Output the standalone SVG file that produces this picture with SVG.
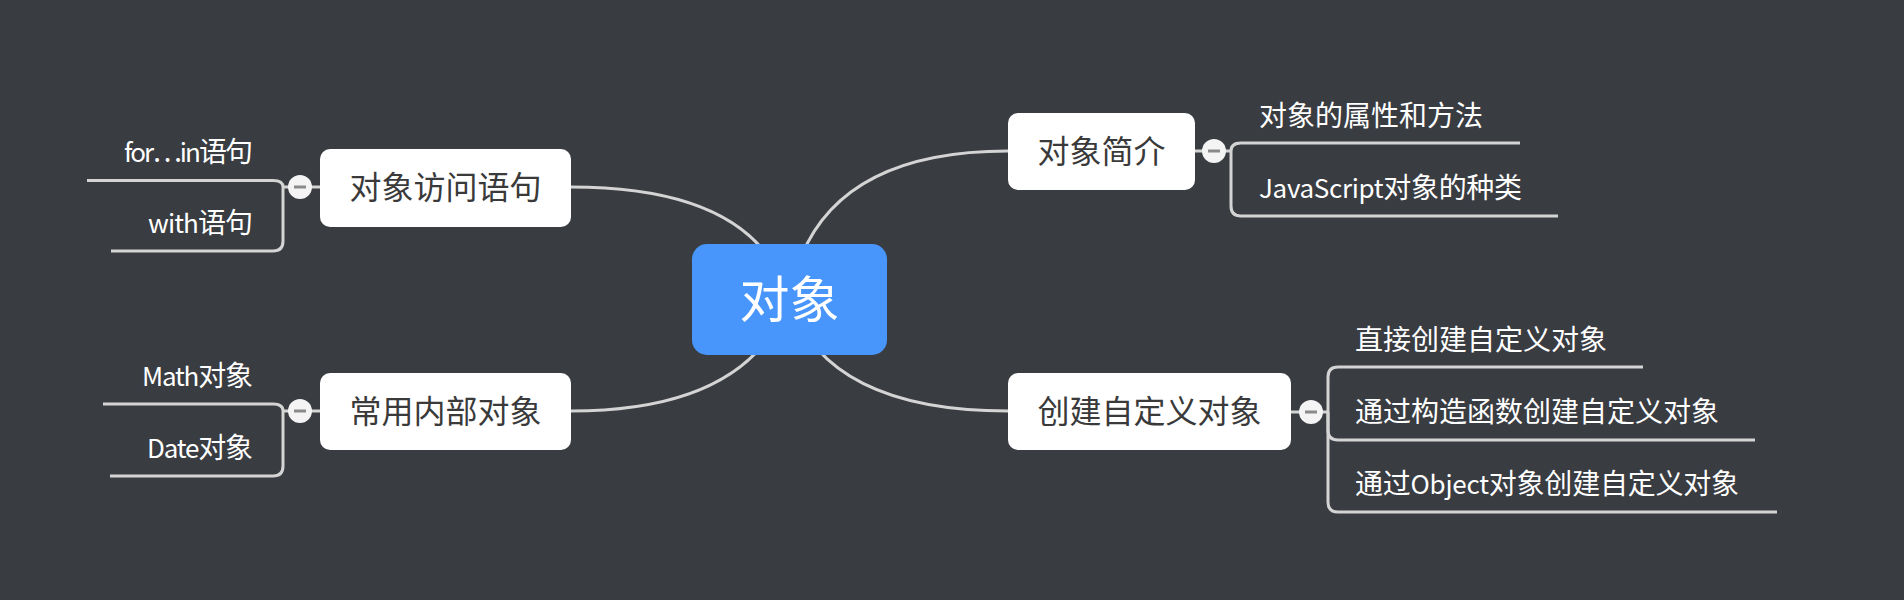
<svg xmlns="http://www.w3.org/2000/svg" width="1904" height="600" viewBox="0 0 1904 600">
<style>
text{font-family:"Noto Sans CJK SC","Noto Sans",sans-serif}
.bg{fill:#393c41}
.conn{fill:none;stroke:#d4d4d4;stroke-width:3;stroke-linecap:butt}
.topic{fill:#ffffff}
.ttext{font-size:32px;fill:#3a3a3a;text-anchor:middle}
.sub{font-size:28px;fill:#ffffff}
.lat{font-size:26px}
.tog{fill:#f4f4f4}
.minus{stroke:#8a8a8a;stroke-width:3}
.fw{font-family:"Noto Sans CJK SC",sans-serif;font-size:28px;font-variant-east-asian:full-width;font-feature-settings:"fwid" 1}
</style>
<rect class="bg" x="0" y="0" width="1904" height="600"/>
<g id="connectors">
  <path class="conn" d="M789,300 Q758,187 571,187"/>
  <path class="conn" d="M789,300 Q748,411 571,411"/>
  <path class="conn" d="M789,300 Q814,151 1008,151"/>
  <path class="conn" d="M789,300 Q827,411 1008,411"/>
  <path class="conn" d="M320,187 H283"/>
  <path class="conn" d="M283,187 Q283,180.5 273,180.5 H87"/>
  <path class="conn" d="M283,187 V241 Q283,251 273,251 H111"/>
  <path class="conn" d="M320,411 H283"/>
  <path class="conn" d="M283,411 Q283,404 273,404 H103"/>
  <path class="conn" d="M283,411 V466 Q283,476 273,476 H110"/>
  <path class="conn" d="M1195,151 H1231"/>
  <path class="conn" d="M1231,151 Q1231,143 1241,143 H1520"/>
  <path class="conn" d="M1231,151 V206 Q1231,216 1241,216 H1558"/>
  <path class="conn" d="M1291,412 H1328"/>
  <path class="conn" d="M1328,412 V377 Q1328,367 1338,367 H1643"/>
  <path class="conn" d="M1328,412 V430 Q1328,440 1338,440 H1755"/>
  <path class="conn" d="M1328,412 V502 Q1328,512 1338,512 H1777"/>
</g>
<g id="center">
  <rect x="692" y="244" width="195" height="111" rx="15" fill="#4896fb"/>
  <text x="789.5" y="318" font-size="50" fill="#ffffff" text-anchor="middle">对象</text>
</g>
<g id="topic-access">
  <rect class="topic" x="320" y="149" width="251" height="78" rx="10"/>
  <text class="ttext" x="445.5" y="199">对象访问语句</text>
  <circle class="tog" cx="300" cy="187" r="12"/>
  <line class="minus" x1="294" y1="187" x2="306" y2="187"/>
</g>
<g id="sub-forin"><text class="sub" x="124" y="162" textLength="129" lengthAdjust="spacing"><tspan class="lat">for</tspan><tspan class="fw">…</tspan><tspan class="lat">in</tspan>语句</text></g>
<g id="sub-with"><text class="sub" x="148" y="233" textLength="105" lengthAdjust="spacing"><tspan class="lat">with</tspan>语句</text></g>
<g id="topic-builtin">
  <rect class="topic" x="320" y="373" width="251" height="77" rx="10"/>
  <text class="ttext" x="445.5" y="423">常用内部对象</text>
  <circle class="tog" cx="300" cy="411" r="12"/>
  <line class="minus" x1="294" y1="411" x2="306" y2="411"/>
</g>
<g id="sub-math"><text class="sub" x="142" y="386" textLength="111" lengthAdjust="spacing"><tspan class="lat">Math</tspan>对象</text></g>
<g id="sub-date"><text class="sub" x="147" y="458" textLength="106" lengthAdjust="spacing"><tspan class="lat">Date</tspan>对象</text></g>
<g id="topic-intro">
  <rect class="topic" x="1008" y="113" width="187" height="77" rx="10"/>
  <text class="ttext" x="1101.5" y="163">对象简介</text>
  <circle class="tog" cx="1214" cy="151" r="12"/>
  <line class="minus" x1="1208" y1="151" x2="1220" y2="151"/>
</g>
<g id="sub-props"><text class="sub" x="1259" y="126">对象的属性和方法</text></g>
<g id="sub-kinds"><text class="sub" x="1259" y="198" textLength="263" lengthAdjust="spacing"><tspan class="lat">JavaScript</tspan>对象的种类</text></g>
<g id="topic-create">
  <rect class="topic" x="1008" y="373" width="283" height="77" rx="10"/>
  <text class="ttext" x="1149.5" y="423">创建自定义对象</text>
  <circle class="tog" cx="1311" cy="412" r="12"/>
  <line class="minus" x1="1305" y1="412" x2="1317" y2="412"/>
</g>
<g id="sub-direct"><text class="sub" x="1355" y="350">直接创建自定义对象</text></g>
<g id="sub-ctor"><text class="sub" x="1355" y="422">通过构造函数创建自定义对象</text></g>
<g id="sub-object"><text class="sub" x="1355" y="494" textLength="384" lengthAdjust="spacing">通过<tspan class="lat">Object</tspan>对象创建自定义对象</text></g>
</svg>
